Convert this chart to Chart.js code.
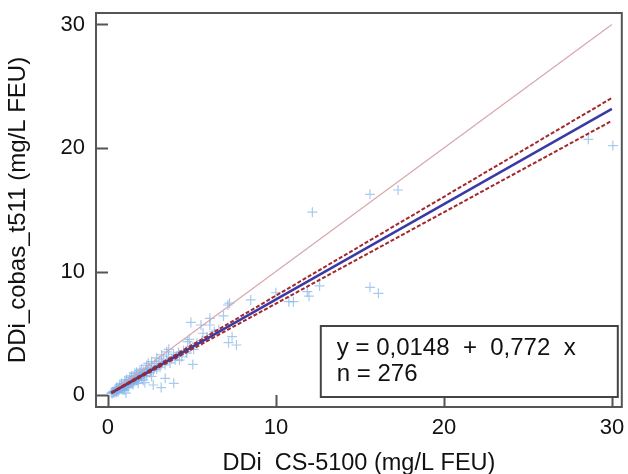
<!DOCTYPE html>
<html>
<head>
<meta charset="utf-8">
<script src="https://cdn.jsdelivr.net/npm/chart.js@4.4.1/dist/chart.umd.min.js"></script>
<style>
  html, body { margin: 0; padding: 0; background: #fff; }
  #c { display: block; }
</style>
</head>
<body>
<canvas id="c" width="628" height="474"></canvas>
<script>
// ---- data ----
const xTitle = "DDi  CS-5100 (mg/L FEU)";
const yTitle = "DDi_cobas_t511 (mg/L FEU)";
const xTicks = [0, 10, 20, 30];
const yTicks = [0, 10, 20, 30];
const legendLines = ["y = 0,0148  +  0,772  x", "n = 276"];

// identity line, regression line and its confidence band (endpoints)
const lineX = [0.2, 30];
const identityY = [0.2, 30];
const fitY = [0.17, 23.17];
const ciUpperY = [0.2, 24.05];
const ciLowerY = [0.15, 22.2];

// measured pairs [x, y]
const clusterPoints = [
  [0.2,0.18],[0.25,0.12],[0.3,0.28],[0.3,0.2],[0.35,0.15],[0.4,0.38],[0.4,0.25],[0.45,0.3],
  [0.5,0.45],[0.5,0.32],[0.5,0.2],[0.55,0.4],[0.6,0.52],[0.6,0.36],[0.65,0.45],[0.7,0.6],
  [0.7,0.42],[0.75,0.55],[0.8,0.68],[0.8,0.5],[0.85,0.62],[0.9,0.75],[0.9,0.55],[0.95,0.7],
  [1.0,0.85],[1.0,0.65],[1.05,0.78],[1.1,0.95],[1.1,0.72],[1.15,0.85],[1.2,1.05],[1.2,0.8],
  [1.25,0.95],[1.3,1.15],[1.3,0.9],[1.35,1.02],[1.4,1.25],[1.4,0.95],[1.45,1.1],[1.5,1.35],
  [1.5,1.05],[1.55,1.2],[1.6,1.45],[1.6,1.1],[1.65,1.3],[1.7,1.55],[1.7,1.2],[1.75,1.38],
  [1.8,1.62],[1.85,1.3],[1.9,1.5],[1.95,1.75],[2.0,1.45],[2.05,1.65],[2.1,1.9],[2.15,1.55],
  [2.2,1.75],[2.25,2.05],[2.3,1.6],[2.35,1.85],[2.4,2.15],[2.5,1.8],[2.55,2.0],[2.6,2.35],
  [2.7,1.95],[2.75,2.2],[2.8,2.55],[2.9,2.1],[3.0,2.4],[3.05,2.75],[3.1,2.25],[3.2,2.55],
  [3.3,2.9],[3.4,2.45],[3.5,2.75],[3.6,3.1],[3.7,2.6],[3.8,2.95],[3.9,3.3],[4.0,2.85],
  [4.1,3.15],[4.2,3.45],[4.4,3.1],[4.5,3.6],[4.7,3.4],[4.9,3.9],[5.1,3.7],[5.3,4.2],
  [5.6,4.4],[5.9,4.7],[6.2,4.9],[6.6,5.3],[0.6,0.25],[0.9,0.4],[1.2,0.6],[1.5,0.85],
  [1.8,0.95],[2.1,1.2],[2.6,1.5],[2.2,1.0],[0.5,0.6],[0.8,0.95],[1.1,1.25],[1.4,1.55],
  [1.7,1.85],[2.0,2.1],[2.3,2.4],[2.6,2.7],[2.9,3.0],[3.2,3.25],[3.5,3.5],[0.7,0.85],
  [1.0,1.15],[1.3,1.45],[1.6,1.75],[1.9,2.0]
];
const outlierPoints = [
  [30.06,20.2],[28.6,20.7],[17.27,16.6],[15.6,16.25],[12.17,14.8],[15.6,8.72],[16.1,8.23],
  [12.6,8.83],[11.87,8.37],[11.97,8.0],[11.04,7.56],[10.0,8.28],[10.77,7.56],[8.5,7.7],
  [7.14,7.29],[7.24,7.44],[6.88,6.4],[6.07,6.21],[4.94,5.88],[5.66,5.0],[6.07,5.67],
  [6.33,5.13],[5.54,5.67],[7.39,4.72],[7.18,4.24],[7.65,4.05],[5.05,2.48],[4.74,4.32],
  [4.84,4.5],[3.92,0.95],[3.17,0.6],[2.7,0.81],[3.41,1.35],[3.62,3.7],[2.4,2.57],
  [1.79,1.21],[1.07,0.16],[4.26,2.83],[4.66,3.51],[1.0,0.4]
];

// ---- build chart ----
const toXY = (xs, ys) => xs.map((x, i) => ({ x: x, y: ys[i] }));
const pts = clusterPoints.concat(outlierPoints).map(p => ({ x: p[0], y: p[1] }));
const FONT = "'Liberation Sans', Arial, sans-serif";

const noEdgePadding = s => {
  s.paddingLeft = 0; s.paddingRight = 0; s.paddingTop = 0; s.paddingBottom = 0;
};

const framePlugin = {
  id: 'frame',
  afterDatasetsDraw(chart) {
    const { ctx, chartArea: a, scales } = chart;
    const sx = scales.x, sy = scales.y;
    ctx.save();
    ctx.strokeStyle = '#555';
    ctx.lineWidth = 2;
    ctx.strokeRect(a.left, a.top, a.right - a.left, a.bottom - a.top);
    ctx.beginPath();
    xTicks.forEach(v => {
      const p = Math.round(sx.getPixelForValue(v)) + 0.5;
      ctx.moveTo(p, a.bottom); ctx.lineTo(p, a.bottom - 12);
    });
    yTicks.forEach(v => {
      const p = Math.round(sy.getPixelForValue(v)) + 0.5;
      ctx.moveTo(a.left, p); ctx.lineTo(a.left + 12, p);
    });
    ctx.stroke();
    // legend box (bottom right inside plot)
    const bx = a.right - 301, by = a.bottom - 81, bw = 297, bh = 71;
    ctx.fillStyle = '#fff';
    ctx.fillRect(bx, by, bw, bh);
    ctx.strokeStyle = '#444';
    ctx.lineWidth = 2;
    ctx.strokeRect(bx, by, bw, bh);
    ctx.fillStyle = '#111';
    ctx.font = '24px ' + FONT;
    ctx.textBaseline = 'middle';
    ctx.textAlign = 'left';
    legendLines.forEach((t, i) => ctx.fillText(t, bx + 16, by + 22 + i * 26));
    ctx.restore();
  }
};

new Chart(document.getElementById('c'), {
  type: 'scatter',
  data: {
    datasets: [
      { type: 'line', data: toXY(lineX, ciUpperY), borderColor: '#a3282a', borderWidth: 2,
        borderDash: [4, 2], pointRadius: 0, fill: false },
      { type: 'line', data: toXY(lineX, ciLowerY), borderColor: '#a3282a', borderWidth: 2,
        borderDash: [4, 2], pointRadius: 0, fill: false },
      { type: 'line', data: toXY(lineX, fitY), borderColor: '#3a3aa6', borderWidth: 2.5,
        pointRadius: 0, fill: false },
      { type: 'line', data: toXY(lineX, identityY), borderColor: '#d9a6ae', borderWidth: 1.2,
        pointRadius: 0, fill: false },
      { data: pts, pointStyle: 'cross', pointRadius: 5, borderWidth: 1.2,
        borderColor: 'rgba(130,180,232,0.7)', backgroundColor: 'rgba(130,180,232,0.7)' }
    ]
  },
  options: {
    responsive: false,
    devicePixelRatio: 1,
    animation: false,
    layout: { padding: { top: 13, right: 3, left: 0, bottom: 0 } },
    plugins: { legend: { display: false }, tooltip: { enabled: false } },
    scales: {
      x: {
        type: 'linear', min: -0.71, max: 30.59,
        afterBuildTicks: s => { s.ticks = xTicks.map(v => ({ value: v })); },
        afterFit: s => { s.height = 67; noEdgePadding(s); },
        grid: { display: false, drawTicks: false },
        border: { display: false },
        ticks: { font: { size: 22, family: FONT }, color: '#111', padding: 8,
                 maxRotation: 0, autoSkip: false },
        title: { display: true, text: xTitle, font: { size: 23.5, family: FONT, lineHeight: 0.9 },
                 color: '#111', padding: { top: 0, bottom: 0 } }
      },
      y: {
        type: 'linear', min: -0.97, max: 30.93,
        afterBuildTicks: s => { s.ticks = yTicks.map(v => ({ value: v })); },
        afterFit: s => { s.width = 96; noEdgePadding(s); },
        grid: { display: false, drawTicks: false },
        border: { display: false },
        ticks: { font: { size: 22, family: FONT }, color: '#111', padding: 11, autoSkip: false },
        title: { display: true, text: yTitle, font: { size: 24, family: FONT }, color: '#111',
                 padding: { top: 4, bottom: 0 } }
      }
    }
  },
  plugins: [framePlugin]
});
</script>
</body>
</html>
